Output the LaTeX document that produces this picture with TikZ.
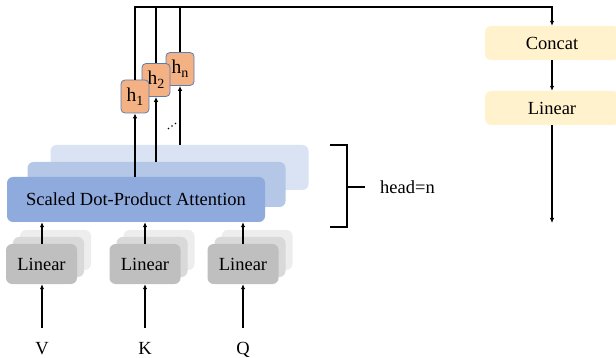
\documentclass[tikz,border=0pt]{standalone}
\usepackage{fontspec}
\setmainfont{Liberation Serif}
\usetikzlibrary{arrows.meta,calc}
\definecolor{attA}{HTML}{8FAADC}
\definecolor{attB}{HTML}{B4C7E7}
\definecolor{attC}{HTML}{DAE3F3}
\definecolor{hfill}{HTML}{F4B183}
\definecolor{hdraw}{HTML}{5B7DB0}
\definecolor{grA}{HTML}{BFBFBF}
\definecolor{grB}{HTML}{D9D9D9}
\definecolor{grC}{HTML}{EDEDED}
\definecolor{ylw}{HTML}{FFF2CC}
\newcommand{\hsub}[1]{h\raisebox{-4pt}{\fontsize{14}{14}\selectfont #1}}
\tikzset{
  attbox/.style={rounded corners=6pt, minimum width=258pt, minimum height=45pt, inner sep=0pt, font=\fontsize{18.5}{20}\selectfont},
  linbox/.style={rounded corners=6pt, minimum width=71pt, minimum height=40pt, inner sep=0pt, font=\fontsize{18.5}{20}\selectfont},
  hbox/.style={rounded corners=4pt, draw=hdraw, line width=0.8pt, fill=hfill, minimum width=28pt, minimum height=33pt, inner sep=0pt, font=\fontsize{19.5}{20}\selectfont},
  ybox/.style={rounded corners=6pt, fill=ylw, minimum width=134pt, minimum height=34pt, inner sep=0pt, font=\fontsize{18.5}{20}\selectfont},
  lbl/.style={inner sep=0pt, font=\fontsize{18.5}{20}\selectfont},
  conn/.style={line width=1.1pt, black},
  arr/.style={conn, -{Latex[length=5pt,width=4.5pt]}},
}
\begin{document}
\begin{tikzpicture}[x=1pt,y=-1pt]
\clip (0,0) rectangle (616,358);
\useasboundingbox (0,0) rectangle (616,358);
% attention stack
\node[attbox, fill=attC] (att3) at (179.5,167.5) {};
\node[attbox, fill=attB] (att2) at (156.5,184.5) {};
\node[attbox, fill=attA] (att1) at (136,199.5) {Scaled Dot-Product Attention};
% linear stacks
\foreach \nm/\cx in {v/41.5,k/145,q/243}{
  \node[linbox, fill=grC] (\nm3) at (\cx+14,250) {};
  \node[linbox, fill=grB] (\nm2) at (\cx+7,257) {};
  \node[linbox, fill=grA] (\nm1) at (\cx,264) {Linear};
}
% inputs
\node[lbl, anchor=base] (V) at (42,354) {V};
\node[lbl, anchor=base] (K) at (145,354) {K};
\node[lbl, anchor=base] (Q) at (243,354) {Q};
\coordinate (vs) at (42,328);
\coordinate (ks) at (145,328);
\coordinate (qs) at (243,328);
\draw[arr] (vs) -- (vs |- v1.south);
\draw[arr] (ks) -- (ks |- k1.south);
\draw[arr] (qs) -- (qs |- q1.south);
\draw[arr] (vs |- v1.north) -- (vs |- att1.south);
\draw[arr] (ks |- k1.north) -- (ks |- att1.south);
\draw[arr] (qs |- q1.north) -- (qs |- att1.south);
% heads
\node[hbox] (hn) at (180,69) {\hsub{n}};
\node[hbox] (h2) at (156,80) {\hsub{2}};
\node[hbox] (h1) at (135,96.5) {\hsub{1}};
\draw[arr] (h1.south |- att1.north) -- (h1.south);
\draw[arr] (h2.south |- att2.north) -- (h2.south);
\draw[arr] (hn.south |- att3.north) -- (hn.south);
\fill (168.5,128.5) circle (0.9) (172,126) circle (0.9) (175.5,123.5) circle (0.9);
% right column
\node[ybox] (concat) at (552,43) {Concat};
\node[ybox] (lin2) at (552,108) {Linear};
\coordinate (topR) at (552,7);
\coordinate (outE) at (552,223);
\draw[arr] (h1.north) |- (topR) -- (concat.north);
\draw[conn] (h2.north) -- (h2.north |- topR);
\draw[conn] (hn.north) -- (hn.north |- topR);
\draw[arr] (concat.south) -- (lin2.north);
\draw[arr] (lin2.south) -- (outE);
% bracket
\coordinate (bT) at (330,145);
\coordinate (bB) at (330,227);
\coordinate (bM) at (347,187);
\draw[line width=2.4pt] (bT) -| (347,227) -- (bB);
\draw[line width=2.4pt] (bM) -- ++(18,0);
\node[lbl, anchor=west] (head) at (380,187) {head=n};
\end{tikzpicture}
\end{document}
